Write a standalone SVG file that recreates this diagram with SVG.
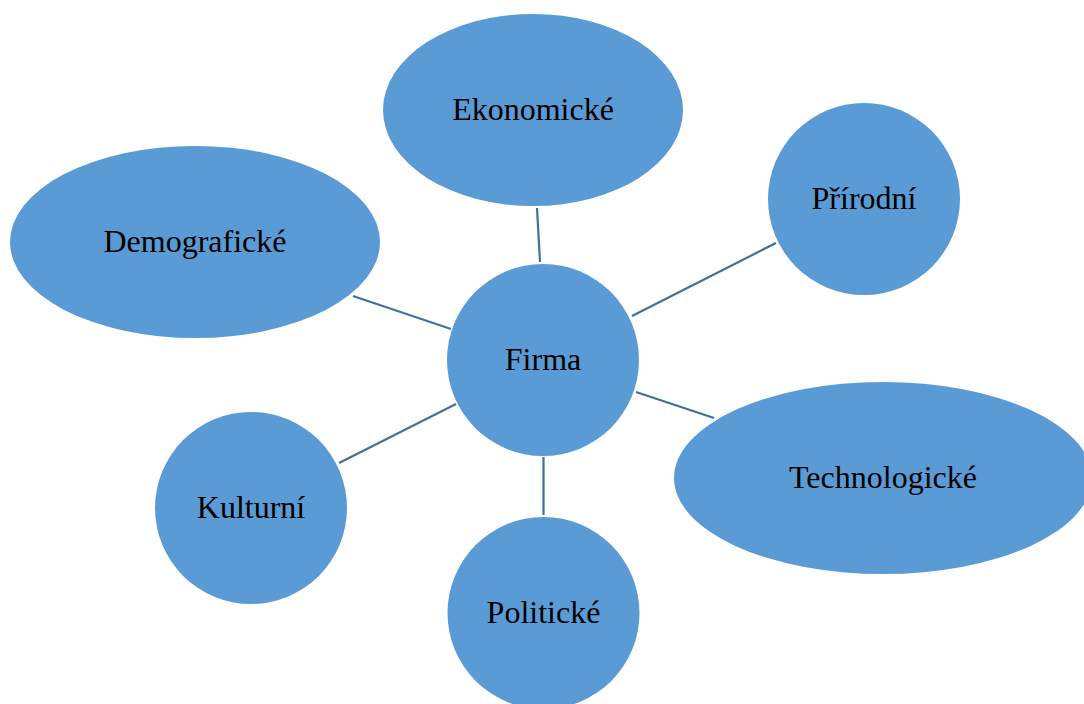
<svg xmlns="http://www.w3.org/2000/svg" width="1084" height="704" viewBox="0 0 1084 704">
<style>
.n{fill:#5B9BD5;}
.t{font-family:"Liberation Serif","Times New Roman",serif;font-size:32px;fill:#000;text-anchor:middle;}
.c line{stroke:#41719C;stroke-width:2.2;}
</style>
<rect width="1084" height="704" fill="#fff"/>
<g class="c" id="connectors">
<line x1="537" y1="208" x2="540" y2="262"/>
<line x1="776" y1="243" x2="632" y2="316"/>
<line x1="353" y1="296" x2="451" y2="329"/>
<line x1="636" y1="392" x2="714" y2="418"/>
<line x1="339" y1="463" x2="456" y2="404"/>
<line x1="543.5" y1="457" x2="543.5" y2="515"/>
</g>
<g id="ekonomicke"><ellipse class="n" cx="533" cy="110" rx="150" ry="96"/><text class="t" x="533" y="120">Ekonomické</text></g>
<g id="prirodni"><circle class="n" cx="864" cy="199" r="96"/><text class="t" x="864" y="209">Přírodní</text></g>
<g id="demograficke"><ellipse class="n" cx="195" cy="242" rx="185" ry="96"/><text class="t" x="195" y="252">Demografické</text></g>
<g id="firma"><circle class="n" cx="543" cy="360" r="96"/><text class="t" x="543" y="370">Firma</text></g>
<g id="technologicke"><ellipse class="n" cx="883" cy="478" rx="209" ry="96"/><text class="t" x="883" y="488">Technologické</text></g>
<g id="kulturni"><circle class="n" cx="251" cy="508" r="96"/><text class="t" x="251" y="518">Kulturní</text></g>
<g id="politicke"><circle class="n" cx="543.5" cy="613" r="96"/><text class="t" x="543.5" y="623">Politické</text></g>
</svg>
